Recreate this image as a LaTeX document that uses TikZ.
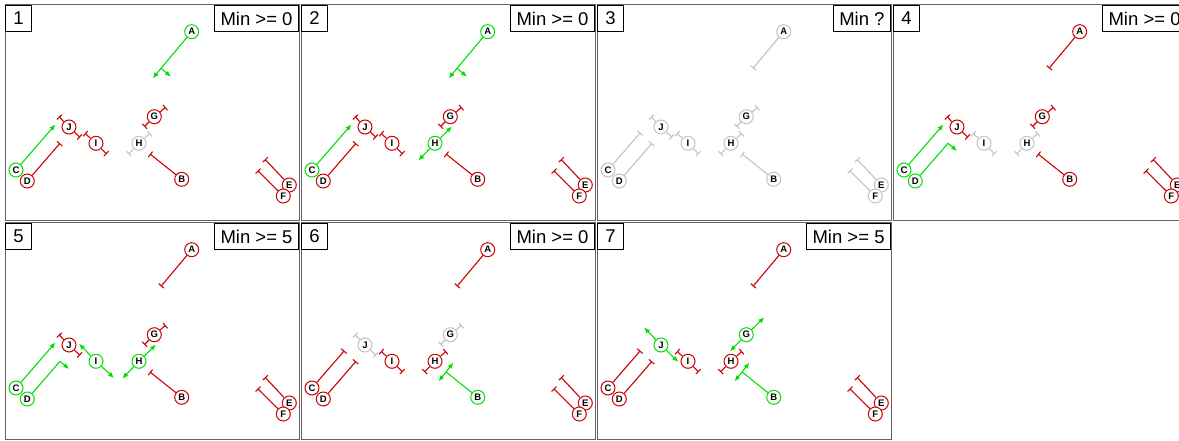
\documentclass[tikz,border=0pt]{standalone}
\usepackage{fontspec}
\setmainfont{Liberation Sans}
\usetikzlibrary{arrows.meta}
\definecolor{cr}{RGB}{204,0,0}
\definecolor{cg}{RGB}{0,224,0}
\definecolor{cy}{RGB}{195,195,195}
\definecolor{frm}{RGB}{100,100,100}
\tikzset{
 >={Latex[length=6pt,width=5pt]},
 ent/.style={circle,draw=#1,fill=white,line width=1pt,inner sep=0pt,minimum size=14pt,font=\bfseries\fontsize{9.5}{10}\selectfont,text=black},
 seg/.style={draw=#1,line width=1.1pt,-{Bar[width=7pt]}},
 gl/.style={draw=cg,line width=1.1pt},
 numbox/.style={draw=black,line width=0.9pt,fill=white,minimum size=26pt,inner sep=0pt,anchor=north west,font=\fontsize{18.5}{20}\selectfont},
 minbox/.style={draw=black,line width=0.9pt,fill=white,minimum height=26pt,inner xsep=6pt,inner ysep=0pt,anchor=north east,font=\fontsize{18.5}{20}\selectfont},
 frame/.style={draw=frm,line width=1pt}
}
\newcommand\oneside[4]{%
 \node[ent=c#2] (#1\pid) at (#3) {#1};
 \coordinate (#1e\pid) at (#4);
 \draw[seg=c#2] (#1\pid) -- (#1e\pid);}
\newcommand\twoside[7]{%
 \node[ent=c#2] (#1\pid) at (#3) {#1};
 \if#2g
  \coordinate (#1x\pid) at (#6); \coordinate (#1y\pid) at (#7);
  \draw[gl,->] (#1\pid) -- (#1x\pid);
  \draw[gl,->] (#1\pid) -- (#1y\pid);
 \else
  \coordinate (#1e\pid) at (#4); \coordinate (#1f\pid) at (#5);
  \draw[seg=c#2] (#1\pid) -- (#1e\pid);
  \draw[seg=c#2] (#1\pid) -- (#1f\pid);
 \fi}
\newcommand\drA[1]{%
 \node[ent=c#1] (A\pid) at (186.7,26.7) {A};
 \coordinate (Ae\pid) at (156,63.3);
 \if#1g
  \coordinate (Ax\pid) at (147.7,73.3);
  \coordinate (Ap\pid) at (166,71.7);
  \draw[gl,->] (A\pid) -- (Ax\pid);
  \draw[gl,->] (Ae\pid) -- (Ap\pid);
 \else
  \draw[seg=c#1] (A\pid) -- (Ae\pid);
 \fi}
\newcommand\drB[1]{%
 \node[ent=c#1] (B\pid) at (176.7,174.3) {B};
 \coordinate (Be\pid) at (145,149);
 \if#1g
  \coordinate (Bp\pid) at (137.5,158.4);
  \coordinate (Bq\pid) at (152.5,139.6);
  \draw[gl] (B\pid) -- (Be\pid);
  \draw[gl,<->] (Bp\pid) -- (Bq\pid);
 \else
  \draw[seg=c#1] (B\pid) -- (Be\pid);
 \fi}
\newcommand\drC[1]{%
 \node[ent=c#1] (C\pid) at (11,165) {C};
 \coordinate (Ce\pid) at (43.3,127.7);
 \if#1g
  \coordinate (Cx\pid) at (50.5,119.4);
  \draw[gl,->] (C\pid) -- (Cx\pid);
 \else
  \draw[seg=c#1] (C\pid) -- (Ce\pid);
 \fi}
\newcommand\drD[1]{%
 \node[ent=c#1] (D\pid) at (22.3,176) {D};
 \coordinate (De\pid) at (55,138.3);
 \if#1g
  \coordinate (Dp\pid) at (64,146);
  \draw[gl,->] (D\pid) -- (De\pid) -- (Dp\pid);
 \else
  \draw[seg=c#1] (D\pid) -- (De\pid);
 \fi}
\newcommand\drE[1]{\oneside{E}{#1}{284.3,180}{260,154.3}}
\newcommand\drF[1]{\oneside{F}{#1}{278.3,191}{252.7,165.7}}
\newcommand\drG[1]{\twoside{G}{#1}{149.3,111.7}{139.3,121.7}{160.7,102.3}{133,128.3}{167.3,94.3}}
\newcommand\drH[1]{\twoside{H}{#1}{134,138.3}{123.3,149}{145,128.3}{117.3,155.5}{151,121.5}}
\newcommand\drI[1]{\twoside{I}{#1}{91,138.3}{80,128.3}{101.7,149}{74,120.7}{109,155}}
\newcommand\drJ[1]{\twoside{J}{#1}{64,122}{54,111.7}{75,132.3}{47,104.3}{81.3,139}}
\newcommand\panel[5]{%
 \def\pid{#1}%
 \begin{scope}[shift={(#2,#3)}]
  \draw[frame] (0,0) rectangle (294,216);
  #5
  \node[numbox] (num#1) at (0,0) {#1};
  \node[minbox] (min#1) at (294,0) {#4};
 \end{scope}}
\begin{document}
\begin{tikzpicture}[x=1pt,y=-1pt]
\useasboundingbox (0,0) rectangle (1179,441);
\clip (0,0) rectangle (1179,441);
\fill[white] (0,0) rectangle (1179,441);
\panel{1}{5}{5}{Min >= 0}{\drA g\drB r\drC g\drD r\drE r\drF r\drG r\drH y\drI r\drJ r}
\panel{2}{301}{5}{Min >= 0}{\drA g\drB r\drC g\drD r\drE r\drF r\drG r\drH g\drI r\drJ r}
\panel{3}{597}{5}{Min ?}{\drA y\drB y\drC y\drD y\drE y\drF y\drG y\drH y\drI y\drJ y}
\panel{4}{893}{5}{Min >= 0}{\drA r\drB r\drC g\drD g\drE r\drF r\drG r\drH y\drI y\drJ r}
\panel{5}{5}{223}{Min >= 5}{\drA r\drB r\drC g\drD g\drE r\drF r\drG r\drH g\drI g\drJ r}
\panel{6}{301}{223}{Min >= 0}{\drA r\drB g\drC r\drD r\drE r\drF r\drG y\drH r\drI r\drJ y}
\panel{7}{597}{223}{Min >= 5}{\drA r\drB g\drC r\drD r\drE r\drF r\drG g\drH r\drI r\drJ g}
\end{tikzpicture}
\end{document}
